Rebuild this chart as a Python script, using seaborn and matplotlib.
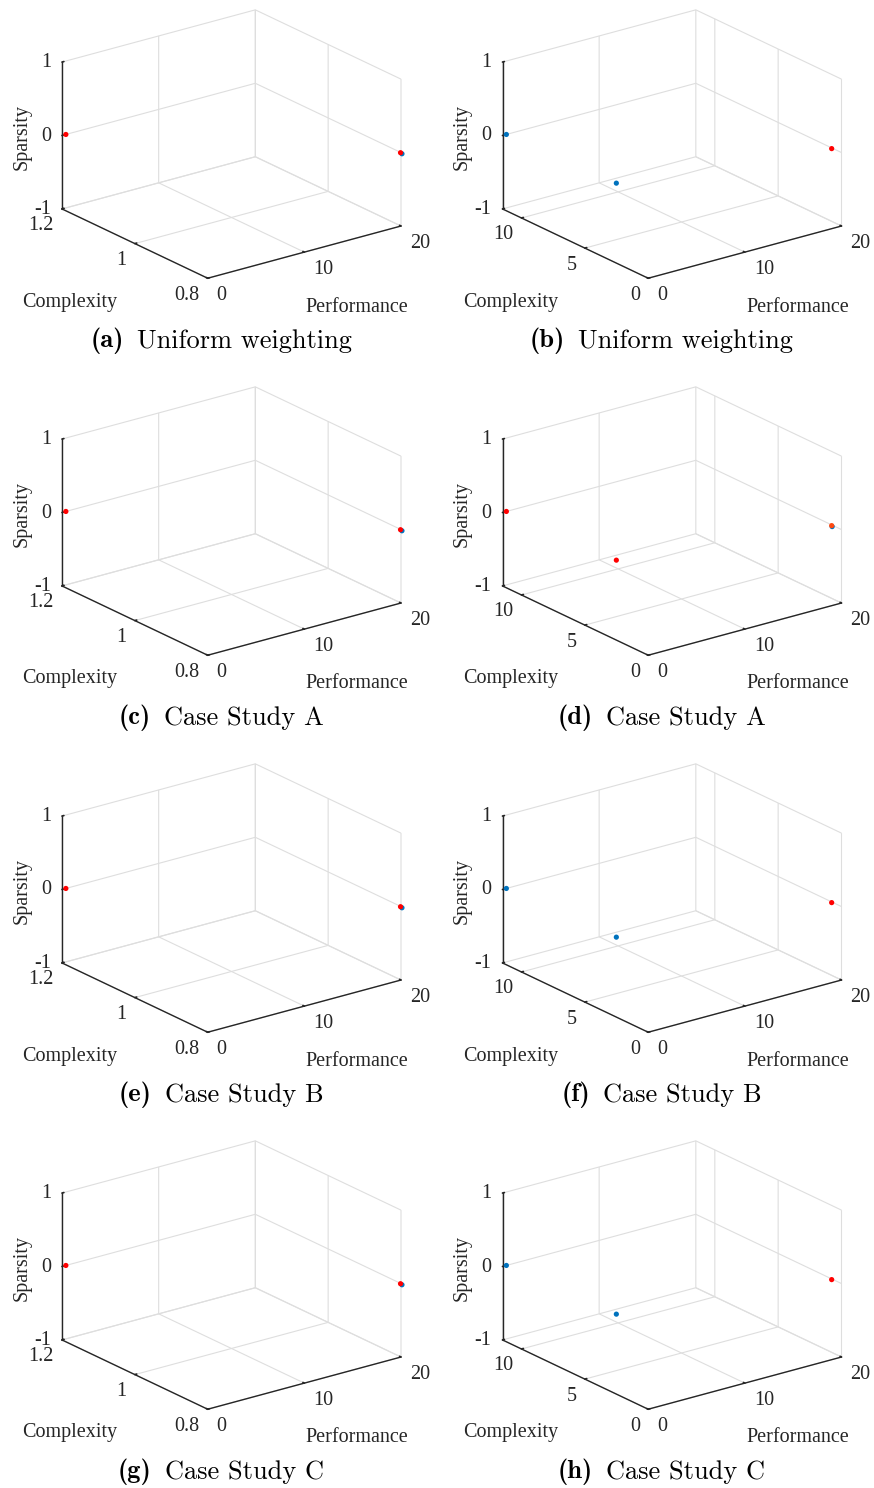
import matplotlib
matplotlib.use("Agg")
import matplotlib.pyplot as plt
from mpl_toolkits.mplot3d import proj3d
import seaborn as sns

sns.set_theme(style="white")
plt.rcParams.update({
    "font.family": ["Liberation Serif", "DejaVu Serif"],
    "axes.unicode_minus": False,
    "mathtext.fontset": "cm",
    "grid.color": "#dedede",
    "grid.linewidth": 0.8,
})

BLUE = "#0072BD"
RED = "#FF0000"
ORANGE = "#FF4A12"

# Solutions of the single-objective search (complexity pinned near 1)
perf_single = [20.1, 0.4, 19.95]
comp_single = [0.80, 1.20, 0.80]
spars_single = [-0.02, 0.0, 0.0]
color_single = [BLUE, RED, RED]

# Solutions of the multi-objective search
perf_multi = [0.4, 0.9, 19.9]
comp_multi = [11.5, 3.2, 0.7]
spars_multi = [0.0, 0.0, 0.0]
color_multi = [BLUE, BLUE, RED]

# Case study A, multi-objective search
perf_multi_a = [0.4, 0.9, 19.95, 19.9]
comp_multi_a = [11.5, 3.2, 0.7, 0.7]
spars_multi_a = [0.0, 0.0, -0.015, 0.0]
color_multi_a = [RED, RED, BLUE, ORANGE]

comp_lim_single = (0.8, 1.2)
comp_ticks_single = [0.8, 1.0, 1.2]
comp_ticklabels_single = ["0.8", "1", "1.2"]
comp_lim_multi = (0.0, 11.5)
comp_ticks_multi = [0, 5, 10]
comp_ticklabels_multi = ["0", "5", "10"]

perf_lim = (0, 20)
perf_ticks = [0, 10, 20]
perf_ticklabels = ["0", "10", "20"]
spars_lim = (-1, 1)
spars_ticks = [-1, 0, 1]
spars_ticklabels = ["-1", "0", "1"]

letters = ["(a)", "(b)", "(c)", "(d)", "(e)", "(f)", "(g)", "(h)"]
titles = ["Uniform weighting", "Uniform weighting",
          "Case Study A", "Case Study A",
          "Case Study B", "Case Study B",
          "Case Study C", "Case Study C"]

W, H = 874, 1488
fig = plt.figure(figsize=(W / 100, H / 100), dpi=100)

ROW_PITCH = 377
COL_PITCH = 440.5
SIDE = 365
TXT = "#262626"
FS = 14.5


def panel(idx, perf, comp, spars, colors, comp_lim, comp_ticks):
    row, col = divmod(idx, 2)
    cx = 225 + col * COL_PITCH
    cy = 150 + row * ROW_PITCH
    rect = [(cx - SIDE / 2) / W, 1 - (cy + SIDE / 2) / H, SIDE / W, SIDE / H]
    ax = fig.add_axes(rect, projection="3d", proj_type="ortho")
    ax.patch.set_alpha(0)
    ax.view_init(elev=21, azim=-127)
    ax.set_box_aspect((1, 1, 0.65))

    ax.scatter(perf, comp, spars, c=colors, s=14, depthshade=False,
               edgecolors="none", alpha=1)

    ax.set_xlim(*perf_lim)
    ax.set_ylim(*comp_lim)
    ax.set_zlim(*spars_lim)
    ax.set_xticks(perf_ticks)
    ax.set_yticks(comp_ticks)
    ax.set_zticks(spars_ticks)

    for axis in (ax.xaxis, ax.yaxis, ax.zaxis):
        axis.set_pane_color((1, 1, 1, 0))
        axis.pane.set_edgecolor("#dcdcdc")
        axis.pane.set_linewidth(0.8)
        axis.line.set_color(TXT)
        axis.line.set_linewidth(1.0)
        axis._axinfo["grid"].update(color="#dedede", linewidth=0.8)
        axis._axinfo["tick"].update(inward_factor=0.0, outward_factor=0.12)
        axis._axinfo["tick"]["color"] = TXT
        axis.set_tick_params(which="both", label1On=False, label2On=False)
        axis.label.set_visible(False)
        axis.offsetText.set_visible(False)
    ax.grid(True)
    return ax


axes = []
targets = []
tick_specs = []
for i in range(8):
    row, col = divmod(i, 2)
    if col == 0:
        ax = panel(i, perf_single, comp_single, spars_single, color_single,
                   comp_lim_single, comp_ticks_single)
        tick_specs.append((comp_lim_single, comp_ticks_single, comp_ticklabels_single))
    elif i == 3:
        ax = panel(i, perf_multi_a, comp_multi_a, spars_multi_a, color_multi_a,
                   comp_lim_multi, comp_ticks_multi)
        tick_specs.append((comp_lim_multi, comp_ticks_multi, comp_ticklabels_multi))
    else:
        ax = panel(i, perf_multi, comp_multi, spars_multi, color_multi,
                   comp_lim_multi, comp_ticks_multi)
        tick_specs.append((comp_lim_multi, comp_ticks_multi, comp_ticklabels_multi))
    axes.append(ax)
    ox = col * COL_PITCH
    oy = row * ROW_PITCH
    # left box edge x, right box edge x, height of the sparsity=0 level on the left edge
    targets.append((62 + ox, 401 + ox, 135.5 + oy))

    fig.text((22 + ox) / W, 1 - (137 + oy) / H, "Sparsity", rotation=90,
             ha="center", va="center", fontsize=FS, color=TXT)
    fig.text((70 + ox) / W, 1 - (302 + oy) / H, "Complexity",
             ha="center", va="center", fontsize=FS, color=TXT)
    fig.text((357 + ox) / W, 1 - (307 + oy) / H, "Performance",
             ha="center", va="center", fontsize=FS, color=TXT)


def to_pixels(ax, x, y, z):
    px, py, _ = proj3d.proj_transform(x, y, z, ax.M)
    return ax.transData.transform((px, py))


# Fit every 3-D box into its slot of the grid
for _ in range(3):
    fig.canvas.draw()
    for ax, (tl, tr, ty) in zip(axes, targets):
        xl, yl = ax.get_xlim(), ax.get_ylim()
        Lx, Ly = to_pixels(ax, xl[0], yl[1], 0.0)
        Rx, _ = to_pixels(ax, xl[1], yl[0], 0.0)
        pos = ax.get_position(original=True)
        cx = (pos.x0 + pos.x1) / 2 * W
        cy = (pos.y0 + pos.y1) / 2 * H
        side = pos.width * W
        s = (tr - tl) / (Rx - Lx)
        Lx2 = cx + (Lx - cx) * s
        Ly2 = cy + (Ly - cy) * s
        ncx = cx + (tl - Lx2)
        ncy = cy + ((H - ty) - Ly2)
        nside = side * s
        ax.set_position([(ncx - nside / 2) / W, (ncy - nside / 2) / H,
                         nside / W, nside / H])

fig.canvas.draw()


def tick_text(ax, xyz, label, dx, dy, ha):
    px, py = to_pixels(ax, *xyz)
    fig.text((px + dx) / W, (py + dy) / H, label, ha=ha, va="center",
             fontsize=FS, color=TXT)


# Tick labels next to the ticks of the three labelled box edges
for ax, (comp_lim, comp_ticks, comp_labels) in zip(axes, tick_specs):
    for t, lab in zip(perf_ticks, perf_ticklabels):
        tick_text(ax, (t, comp_lim[0], spars_lim[0]), lab, 9, -17, "left")
    for t, lab in zip(comp_ticks, comp_labels):
        tick_text(ax, (perf_lim[0], t, spars_lim[0]), lab, -8, -17, "right")
    for t, lab in zip(spars_ticks, spars_ticklabels):
        tick_text(ax, (perf_lim[0], comp_lim[1], t), lab, -11, -0.5, "right")

# Sub-figure captions: bold letter followed by the case name
renderer = fig.canvas.get_renderer()
for i in range(8):
    row, col = divmod(i, 2)
    center = 221 + col * COL_PITCH
    yc = 1 - (341 + row * ROW_PITCH) / H
    t1 = fig.text(0.5, yc, letters[i], family="cmb10", fontsize=19,
                  ha="left", va="center", color="black")
    t2 = fig.text(0.5, yc, titles[i], family="cmr10", fontsize=19,
                  ha="left", va="center", color="black")
    w1 = t1.get_window_extent(renderer).width
    w2 = t2.get_window_extent(renderer).width
    gap = 13
    x0 = center - (w1 + gap + w2) / 2
    t1.set_x(x0 / W)
    t2.set_x((x0 + w1 + gap) / W)

fig.savefig("out.png", dpi=100, facecolor="white")
